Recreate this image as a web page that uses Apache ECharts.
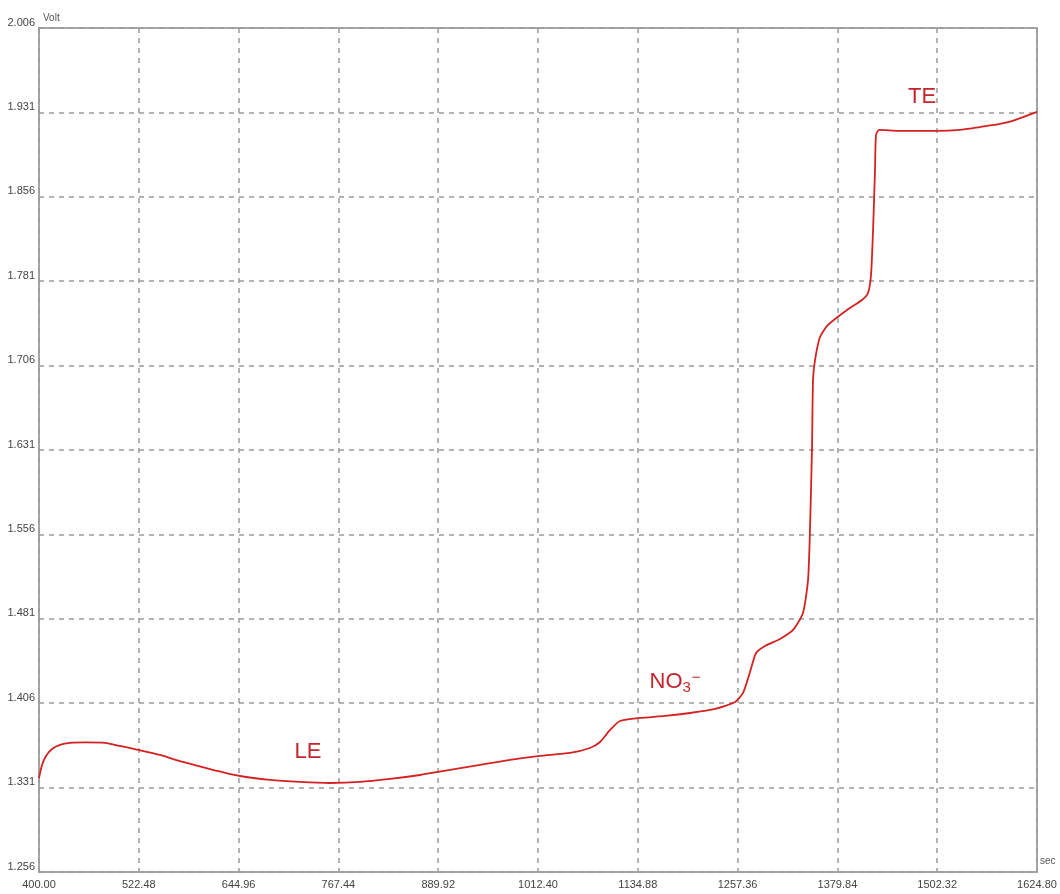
<!DOCTYPE html>
<html lang="en">
<head>
    <meta charset="UTF-8">
    <title>Isotachophoresis trace</title>
    <script src="https://cdn.jsdelivr.net/npm/echarts@6/dist/echarts.min.js"></script>
</head>
<body style="margin:0">
    <div id="main" style="width: 1060px;height:894px;"></div>
    <script type="text/javascript">
        // time (sec) and detector signal (Volt)
        var timeSec = [400.0, 403.7, 408.6, 416.0, 425.8, 438.0, 456.5, 481.0, 499.4, 522.5,
            548.5, 576.7, 609.9, 646.7, 683.5, 720.3, 757.1, 794.0, 830.8, 867.6,
            904.4, 941.2, 978.0, 1014.9, 1051.7, 1076.2, 1088.5, 1100.8, 1113.1, 1137.6,
            1168.3, 1199.0, 1229.6, 1254.2, 1264.0, 1272.6, 1280.0, 1291.0, 1309.4, 1325.4,
            1337.6, 1343.8, 1346.2, 1348.7, 1349.9, 1352.4, 1358.5, 1368.3, 1391.6, 1410.0,
            1417.4, 1421.1, 1423.6, 1426.0, 1427.2, 1430.9, 1456.7, 1502.1, 1530.3, 1554.9,
            1579.4, 1597.8, 1624.8];
        var volt = [1.3395, 1.3511, 1.3591, 1.3653, 1.3689, 1.3707, 1.3711, 1.3707, 1.3680, 1.3644,
            1.3600, 1.3538, 1.3475, 1.3413, 1.3378, 1.3360, 1.3351, 1.3360, 1.3387, 1.3422,
            1.3467, 1.3511, 1.3556, 1.3591, 1.3618, 1.3662, 1.3715, 1.3822, 1.3902, 1.3929,
            1.3947, 1.3973, 1.4009, 1.4071, 1.4151, 1.4337, 1.4506, 1.4569, 1.4631, 1.4711,
            1.4862, 1.5155, 1.5599, 1.6337, 1.6932, 1.7110, 1.7314, 1.7421, 1.7554, 1.7643,
            1.7705, 1.7865, 1.8265, 1.8798, 1.9109, 1.9154, 1.9145, 1.9145, 1.9154, 1.9180,
            1.9207, 1.9242, 1.9314];

        // axis ranges / tick steps
        var xStart = 400.00, xEnd = 1624.80, xStep = 122.48;
        var yStart = 1.256, yEnd = 2.006, yStep = 0.075;

        // zone labels: [text key, time, volt]
        var zoneNames = ['LE', 'NO3', 'TE'];
        var zoneTime = [730.1, 1180.6, 1483.7];
        var zoneVolt = [1.3627, 1.4245, 1.9447];

        // axes start at 0 so ticks land on the grid, labels add the offset back
        var seriesData = timeSec.map(function (t, i) {
            return [t - xStart, volt[i] - yStart];
        });
        var zoneText = {
            LE: 'LE',
            NO3: '{b|NO}{sub|3}{sup|\u2212}',
            TE: 'TE'
        };
        var zonePoints = zoneNames.map(function (n, i) {
            return {
                coord: [zoneTime[i] - xStart, zoneVolt[i] - yStart],
                label: {formatter: zoneText[n]}
            };
        });

        var labelFont = '"Liberation Sans Narrow", "Liberation Sans", Arial, sans-serif';
        var annFont = 'Arial, "Liberation Sans", sans-serif';
        var red = '#d42222';
        var annRed = '#c4262e';

        var myChart = echarts.init(document.getElementById('main'));
        var option = {
            animation: false,
            backgroundColor: '#fff',
            grid: {
                left: 39, right: 23, top: 28, bottom: 22,
                show: true,
                borderColor: '#a6a6a6',
                borderWidth: 2
            },
            xAxis: {
                type: 'value',
                min: 0,
                max: xEnd - xStart,
                interval: xStep,
                name: 'sec',
                nameLocation: 'end',
                nameGap: 3,
                nameTextStyle: {
                    fontFamily: labelFont, fontSize: 10, color: '#555',
                    align: 'left', verticalAlign: 'bottom', padding: [0, 0, 6, 0]
                },
                axisLine: {show: false},
                axisTick: {show: false},
                axisLabel: {
                    fontFamily: labelFont, fontSize: 11, color: '#444', margin: 7,
                    showMinLabel: true, showMaxLabel: true,
                    formatter: function (v) { return (v + xStart).toFixed(2); }
                },
                splitLine: {lineStyle: {color: '#9a9a9a', width: 1.5, type: [5, 5]}}
            },
            yAxis: {
                type: 'value',
                min: 0,
                max: yEnd - yStart,
                interval: yStep,
                name: 'Volt',
                nameLocation: 'end',
                nameGap: 5,
                nameTextStyle: {
                    fontFamily: labelFont, fontSize: 10, color: '#555',
                    align: 'left', verticalAlign: 'bottom', padding: [0, 0, 0, 4]
                },
                axisLine: {show: false},
                axisTick: {show: false},
                axisLabel: {
                    fontFamily: labelFont, fontSize: 11, color: '#444', margin: 4,
                    verticalAlign: 'bottom',
                    showMinLabel: true, showMaxLabel: true,
                    formatter: function (v) { return (v + yStart).toFixed(3); }
                },
                splitLine: {lineStyle: {color: '#9a9a9a', width: 1.5, type: [5, 5]}}
            },
            series: [{
                type: 'line',
                data: seriesData,
                showSymbol: false,
                smooth: 0.2,
                lineStyle: {color: red, width: 1.8},
                markPoint: {
                    symbol: 'circle',
                    symbolSize: 0,
                    silent: true,
                    label: {
                        show: true,
                        position: 'inside',
                        color: annRed,
                        fontFamily: annFont,
                        fontSize: 22,
                        rich: {
                            b: {fontSize: 22, color: annRed, fontFamily: annFont},
                            sub: {fontSize: 15, color: annRed, fontFamily: annFont, padding: [10, 0, 0, 0]},
                            sup: {fontSize: 15, color: annRed, fontFamily: annFont, padding: [0, 0, 10, 1]}
                        }
                    },
                    data: zonePoints
                }
            }]
        };
        myChart.setOption(option);
    </script>
</body>
</html>
